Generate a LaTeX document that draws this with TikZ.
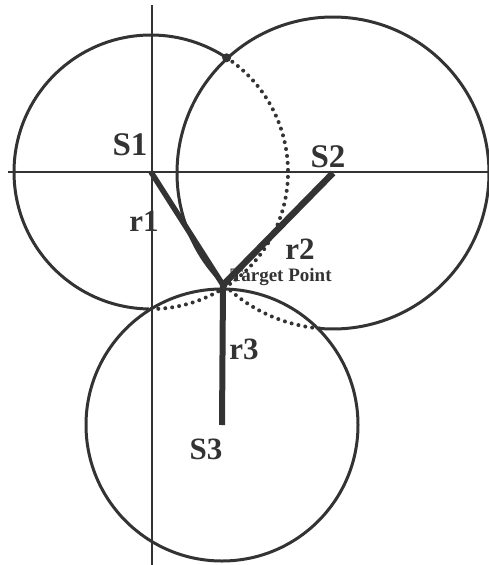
\documentclass[tikz,border=0pt]{standalone}
\usepackage{fontspec}
\setmainfont{Liberation Serif}
\usepackage{tikz}

\begin{document}
\begin{tikzpicture}[
  x=1pt, y=-1pt,
  axis/.style={draw=black!80, line width=1.3pt},
  circ/.style={draw=black!80, line width=3pt},
  dotarc/.style={draw=black!80, line width=4pt, line cap=round,
                 dash pattern=on 0pt off 7pt},
  radial/.style={draw=black!80, line width=6pt},
  lbl/.style={font=\fontsize{33}{35}\selectfont\bfseries, inner sep=0pt, text=black!80},
  rlbl/.style={font=\fontsize{31}{33}\selectfont\bfseries, inner sep=0pt, text=black!80},
  tplbl/.style={font=\fontsize{19}{21}\selectfont\bfseries, inner sep=0pt, text=black!80}
]
\useasboundingbox (0,0) rectangle (488,565);

\coordinate (s1) at (151,172);
\coordinate (s2) at (333,173);
\coordinate (s3) at (222,425);
\coordinate (tp) at (223,285);
\coordinate (ax-l) at (8,172);
\coordinate (ax-r) at (488,172);
\coordinate (ax-t) at (152,5);
\coordinate (ax-b) at (152,565);

\draw[axis] (ax-l) -- (ax-r);
\draw[axis] (ax-t) -- (ax-b);

% circle around S1: dotted where it runs through S2 and S3
\draw[circ] (s1) ++(90.8:137) arc[start angle=90.8, end angle=303.5, radius=137];
\draw[dotarc] (s1) ++(-56.5:137) arc[start angle=-56.5, end angle=90.8, radius=137];
% circle around S2
\draw[circ] (s2) ++(134.5:156) arc[start angle=134.5, end angle=455.1, radius=156];
\draw[dotarc] (s2) ++(95.1:156) arc[start angle=95.1, end angle=134.5, radius=156];
% circle around S3
\draw[circ] (s3) circle[radius=136];

\fill[black!80] (s1) ++(-56.5:137) circle[radius=4.5];

\draw[radial, line width=5.5pt] (s1) -- (tp);
\draw[radial, line width=6.5pt] (s2) -- (tp);
\draw[radial] (tp) -- (s3);

\node[lbl] (l-s1) at (130,145) {S1};
\node[lbl] (l-s2) at (328,157) {S2};
\node[rlbl] (l-s3) at (206,449) {S3};
\node[rlbl] (l-r1) at (144,221) {r1};
\node[rlbl] (l-r2) at (300,249) {r2};
\node[rlbl] (l-r3) at (244,349) {r3};
\node[tplbl] (l-tp) at (281,277) {Target Point};
\end{tikzpicture}
\end{document}
